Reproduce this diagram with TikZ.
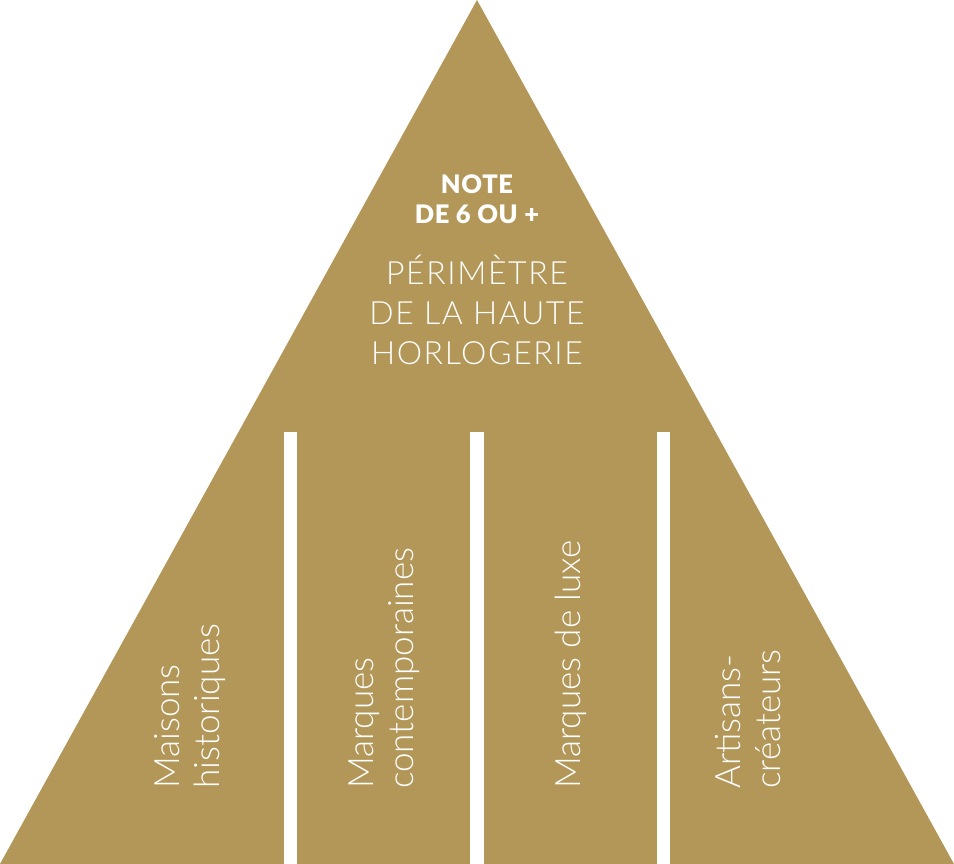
\documentclass[tikz,border=0pt]{standalone}
\usepackage{fontspec}
\setmainfont{Lato}
\newfontfamily\lightfont{Lato Light}
\newfontfamily\lightwide[LetterSpace=5]{Lato Light}
\newfontfamily\boldwide[LetterSpace=2.5]{Lato Black}
\definecolor{gold}{HTML}{B39758}
\tikzset{
  txt/.style={text=white, inner sep=0pt, align=center},
  collab/.style={text=white, inner sep=0pt, align=left, rotate=90, anchor=west,
    font=\lightfont\fontsize{35}{40}\selectfont},
  bar/.style={fill=white}
}
\begin{document}
\begin{tikzpicture}[x=1pt,y=-1pt]
\useasboundingbox (0,0) rectangle (954,864);
\fill[gold] (477,0) -- (0,864) -- (954,864) -- cycle;
\fill[bar] (284,432) rectangle (297,864);
\fill[bar] (470,432) rectangle (484,864);
\fill[bar] (657,432) rectangle (670,864);
\node[txt, font=\boldwide\fontsize{25.5}{30}\selectfont] (note) at (477,199) {NOTE\\DE 6 OU +};
\node[txt, font=\lightwide\fontsize{32}{40}\selectfont] (perim) at (477,310) {PÉRIMÈTRE\\DE LA HAUTE\\HORLOGERIE};
\node[collab] (c1) at (190,789) {Maisons\\historiques};
\node[collab] (c2) at (384,789) {Marques\\contemporaines};
\node[collab] (c3) at (571,789) {Marques de luxe};
\node[collab] (c4) at (748,789) {Artisans-\\créateurs};
\end{tikzpicture}
\end{document}
